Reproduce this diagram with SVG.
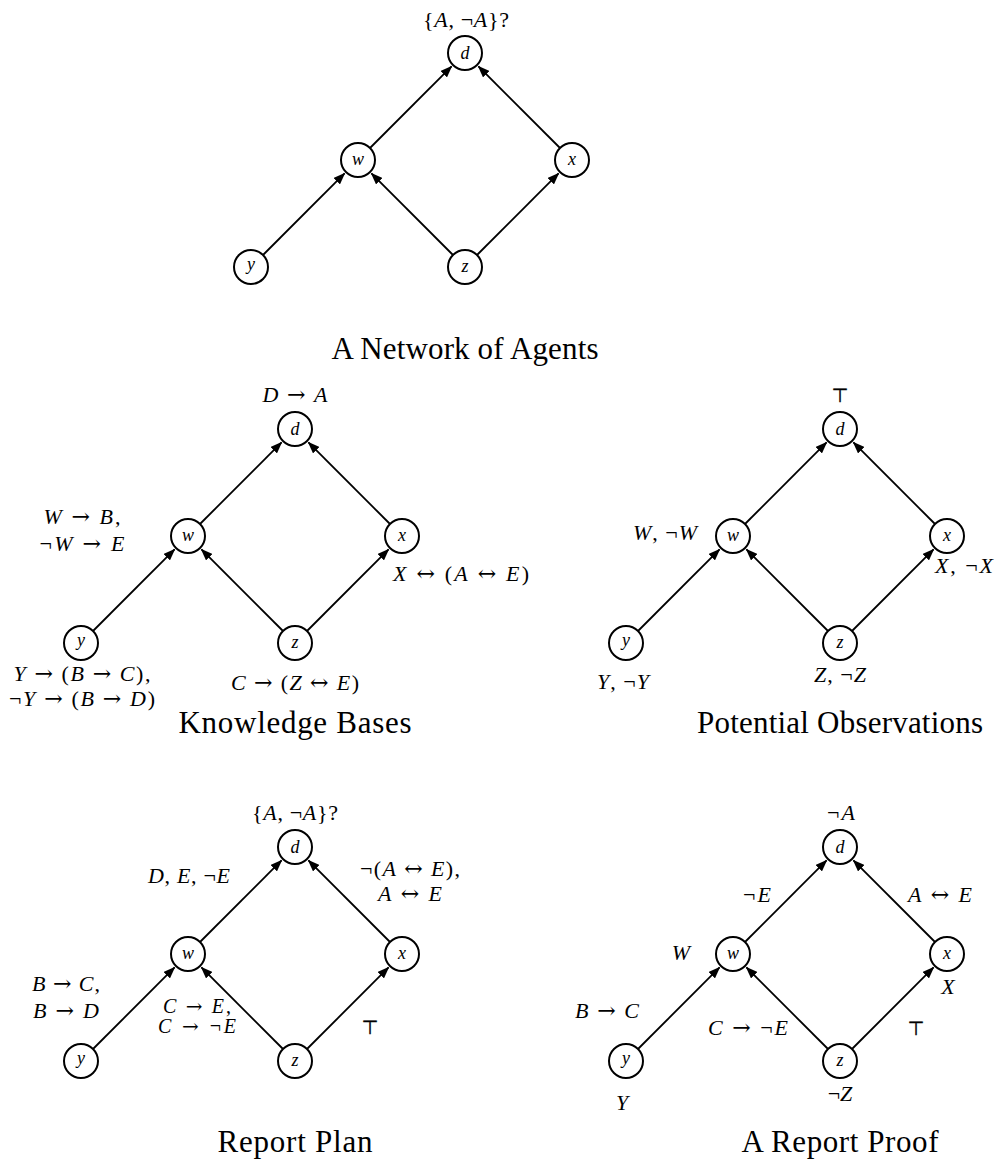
<svg xmlns="http://www.w3.org/2000/svg" width="997" height="1160" viewBox="0 0 997 1160">
<style>
.nd circle{fill:#fff;stroke:#000;stroke-width:2}
.nd text{font-family:"Liberation Serif","DejaVu Serif",serif;font-style:italic;font-size:18px;text-anchor:middle}
.lb{font-family:"Liberation Serif","DejaVu Serif",serif;font-size:22px;text-anchor:middle;fill:#000}
.sm{font-size:20px}
.i{font-style:italic}
.ar{font-family:"DejaVu Serif",serif}
.tp{font-family:"DejaVu Sans",sans-serif;font-size:19px;text-anchor:middle;fill:#000;stroke:#000;stroke-width:0.4}
.ttl{font-family:"Liberation Serif","DejaVu Serif",serif;font-size:31px;text-anchor:middle}
.edges line{stroke:#000;stroke-width:1.8}
</style>
<defs>
<marker id="ah" markerUnits="userSpaceOnUse" markerWidth="12" markerHeight="9" refX="11" refY="4.5" orient="auto" viewBox="0 0 12 9"><path d="M0,0 L12,4.5 L0,9 z" fill="#000"/></marker>
</defs>

<!-- Diagram 1: A Network of Agents -->
<g id="diagram1" transform="translate(465,53)">
<g id="d1-edges" class="edges" marker-end="url(#ah)">
<line x1="-202" y1="202" x2="-120.44" y2="120.44"/>
<line x1="-12" y1="202" x2="-93.56" y2="120.44"/>
<line x1="12" y1="202" x2="93.56" y2="120.44"/>
<line x1="-95" y1="95" x2="-13.44" y2="13.44"/>
<line x1="95" y1="95" x2="13.44" y2="13.44"/>
</g>
<g id="d1-d" class="nd"><circle cx="0" cy="0" r="17"/><text x="0" y="6">d</text></g>
<g id="d1-w" class="nd"><circle cx="-107" cy="107" r="17"/><text x="-107" y="112">w</text></g>
<g id="d1-x" class="nd"><circle cx="107" cy="107" r="17"/><text x="107" y="112">x</text></g>
<g id="d1-y" class="nd"><circle cx="-214" cy="214" r="17"/><text x="-214" y="217">y</text></g>
<g id="d1-z" class="nd"><circle cx="0" cy="214" r="17"/><text x="0" y="219">z</text></g>
<g id="d1-labels">
<text class="lb" x="1" y="-26" textLength="86">{<tspan class="i">A</tspan>, ¬<tspan class="i">A</tspan>}?</text>
<text class="ttl" x="0" y="306" textLength="267" lengthAdjust="spacing">A Network of Agents</text>
</g>
</g>

<!-- Diagram 2: Knowledge Bases -->
<g id="diagram2" transform="translate(295,429)">
<g id="d2-edges" class="edges" marker-end="url(#ah)">
<line x1="-202" y1="202" x2="-120.44" y2="120.44"/>
<line x1="-12" y1="202" x2="-93.56" y2="120.44"/>
<line x1="12" y1="202" x2="93.56" y2="120.44"/>
<line x1="-95" y1="95" x2="-13.44" y2="13.44"/>
<line x1="95" y1="95" x2="13.44" y2="13.44"/>
</g>
<g id="d2-d" class="nd"><circle cx="0" cy="0" r="17"/><text x="0" y="6">d</text></g>
<g id="d2-w" class="nd"><circle cx="-107" cy="107" r="17"/><text x="-107" y="112">w</text></g>
<g id="d2-x" class="nd"><circle cx="107" cy="107" r="17"/><text x="107" y="112">x</text></g>
<g id="d2-y" class="nd"><circle cx="-214" cy="214" r="17"/><text x="-214" y="217">y</text></g>
<g id="d2-z" class="nd"><circle cx="0" cy="214" r="17"/><text x="0" y="219">z</text></g>
<g id="d2-labels">
<text class="lb" x="0" y="-27" textLength="65"><tspan class="i">D</tspan> <tspan class="ar">→</tspan> <tspan class="i">A</tspan></text>
<text class="lb" x="-213" y="95" textLength="77"><tspan class="i">W</tspan> <tspan class="ar">→</tspan> <tspan class="i">B</tspan>,</text>
<text class="lb" x="-213" y="122" textLength="85">¬<tspan class="i">W</tspan> <tspan class="ar">→</tspan> <tspan class="i">E</tspan></text>
<text class="lb" x="98" y="152" style="text-anchor:start" textLength="136"><tspan class="i">X</tspan> <tspan class="ar">↔</tspan> (<tspan class="i">A</tspan> <tspan class="ar">↔</tspan> <tspan class="i">E</tspan>)</text>
<text class="lb" x="-213" y="252" textLength="137"><tspan class="i">Y</tspan> <tspan class="ar">→</tspan> (<tspan class="i">B</tspan> <tspan class="ar">→</tspan> <tspan class="i">C</tspan>),</text>
<text class="lb" x="-213" y="277" textLength="146">¬<tspan class="i">Y</tspan> <tspan class="ar">→</tspan> (<tspan class="i">B</tspan> <tspan class="ar">→</tspan> <tspan class="i">D</tspan>)</text>
<text class="lb" x="0" y="261" textLength="128"><tspan class="i">C</tspan> <tspan class="ar">→</tspan> (<tspan class="i">Z</tspan> <tspan class="ar">↔</tspan> <tspan class="i">E</tspan>)</text>
<text class="ttl" x="0" y="304" textLength="233" lengthAdjust="spacing">Knowledge Bases</text>
</g>
</g>

<!-- Diagram 3: Potential Observations -->
<g id="diagram3" transform="translate(840,429)">
<g id="d3-edges" class="edges" marker-end="url(#ah)">
<line x1="-202" y1="202" x2="-120.44" y2="120.44"/>
<line x1="-12" y1="202" x2="-93.56" y2="120.44"/>
<line x1="12" y1="202" x2="93.56" y2="120.44"/>
<line x1="-95" y1="95" x2="-13.44" y2="13.44"/>
<line x1="95" y1="95" x2="13.44" y2="13.44"/>
</g>
<g id="d3-d" class="nd"><circle cx="0" cy="0" r="17"/><text x="0" y="6">d</text></g>
<g id="d3-w" class="nd"><circle cx="-107" cy="107" r="17"/><text x="-107" y="112">w</text></g>
<g id="d3-x" class="nd"><circle cx="107" cy="107" r="17"/><text x="107" y="112">x</text></g>
<g id="d3-y" class="nd"><circle cx="-214" cy="214" r="17"/><text x="-214" y="217">y</text></g>
<g id="d3-z" class="nd"><circle cx="0" cy="214" r="17"/><text x="0" y="219">z</text></g>
<g id="d3-labels">
<text class="tp" x="0" y="-27">⊤</text>
<text class="lb" x="-175" y="111" textLength="64"><tspan class="i">W</tspan>, ¬<tspan class="i">W</tspan></text>
<text class="lb" x="124" y="144" textLength="58"><tspan class="i">X</tspan>, ¬<tspan class="i">X</tspan></text>
<text class="lb" x="-217" y="260" textLength="52"><tspan class="i">Y</tspan>, ¬<tspan class="i">Y</tspan></text>
<text class="lb" x="0" y="253" textLength="52"><tspan class="i">Z</tspan>, ¬<tspan class="i">Z</tspan></text>
<text class="ttl" x="0" y="304" textLength="286" lengthAdjust="spacing">Potential Observations</text>
</g>
</g>

<!-- Diagram 4: Report Plan -->
<g id="diagram4" transform="translate(295,847)">
<g id="d4-edges" class="edges" marker-end="url(#ah)">
<line x1="-202" y1="202" x2="-120.44" y2="120.44"/>
<line x1="-12" y1="202" x2="-93.56" y2="120.44"/>
<line x1="12" y1="202" x2="93.56" y2="120.44"/>
<line x1="-95" y1="95" x2="-13.44" y2="13.44"/>
<line x1="95" y1="95" x2="13.44" y2="13.44"/>
</g>
<g id="d4-d" class="nd"><circle cx="0" cy="0" r="17"/><text x="0" y="6">d</text></g>
<g id="d4-w" class="nd"><circle cx="-107" cy="107" r="17"/><text x="-107" y="112">w</text></g>
<g id="d4-x" class="nd"><circle cx="107" cy="107" r="17"/><text x="107" y="112">x</text></g>
<g id="d4-y" class="nd"><circle cx="-214" cy="214" r="17"/><text x="-214" y="217">y</text></g>
<g id="d4-z" class="nd"><circle cx="0" cy="214" r="17"/><text x="0" y="219">z</text></g>
<g id="d4-labels">
<text class="lb" x="0" y="-27" textLength="86">{<tspan class="i">A</tspan>, ¬<tspan class="i">A</tspan>}?</text>
<text class="lb" x="-106" y="36" textLength="82"><tspan class="i">D</tspan>, <tspan class="i">E</tspan>, ¬<tspan class="i">E</tspan></text>
<text class="lb" x="115" y="29" textLength="100">¬(<tspan class="i">A</tspan> <tspan class="ar">↔</tspan> <tspan class="i">E</tspan>),</text>
<text class="lb" x="115" y="54" textLength="64"><tspan class="i">A</tspan> <tspan class="ar">↔</tspan> <tspan class="i">E</tspan></text>
<text class="lb" x="-229" y="144" textLength="68"><tspan class="i">B</tspan> <tspan class="ar">→</tspan> <tspan class="i">C</tspan>,</text>
<text class="lb" x="-229" y="171" textLength="66"><tspan class="i">B</tspan> <tspan class="ar">→</tspan> <tspan class="i">D</tspan></text>
<text class="lb sm" x="-98" y="166" textLength="68"><tspan class="i">C</tspan> <tspan class="ar">→</tspan> <tspan class="i">E</tspan>,</text>
<text class="lb sm" x="-98" y="186" textLength="78"><tspan class="i">C</tspan> <tspan class="ar">→</tspan> ¬<tspan class="i">E</tspan></text>
<text class="tp" x="75" y="187">⊤</text>
<text class="ttl" x="0" y="305" textLength="155" lengthAdjust="spacing">Report Plan</text>
</g>
</g>

<!-- Diagram 5: A Report Proof -->
<g id="diagram5" transform="translate(840,847)">
<g id="d5-edges" class="edges" marker-end="url(#ah)">
<line x1="-202" y1="202" x2="-120.44" y2="120.44"/>
<line x1="-12" y1="202" x2="-93.56" y2="120.44"/>
<line x1="12" y1="202" x2="93.56" y2="120.44"/>
<line x1="-95" y1="95" x2="-13.44" y2="13.44"/>
<line x1="95" y1="95" x2="13.44" y2="13.44"/>
</g>
<g id="d5-d" class="nd"><circle cx="0" cy="0" r="17"/><text x="0" y="6">d</text></g>
<g id="d5-w" class="nd"><circle cx="-107" cy="107" r="17"/><text x="-107" y="112">w</text></g>
<g id="d5-x" class="nd"><circle cx="107" cy="107" r="17"/><text x="107" y="112">x</text></g>
<g id="d5-y" class="nd"><circle cx="-214" cy="214" r="17"/><text x="-214" y="217">y</text></g>
<g id="d5-z" class="nd"><circle cx="0" cy="214" r="17"/><text x="0" y="219">z</text></g>
<g id="d5-labels">
<text class="lb" x="1" y="-27" textLength="28">¬<tspan class="i">A</tspan></text>
<text class="lb" x="-83" y="55" textLength="28">¬<tspan class="i">E</tspan></text>
<text class="lb" x="100" y="55" textLength="64"><tspan class="i">A</tspan> <tspan class="ar">↔</tspan> <tspan class="i">E</tspan></text>
<text class="lb" x="-159" y="113"><tspan class="i">W</tspan></text>
<text class="lb" x="108" y="147"><tspan class="i">X</tspan></text>
<text class="lb" x="-233" y="171" textLength="64"><tspan class="i">B</tspan> <tspan class="ar">→</tspan> <tspan class="i">C</tspan></text>
<text class="lb" x="-92" y="188" textLength="80"><tspan class="i">C</tspan> <tspan class="ar">→</tspan> ¬<tspan class="i">E</tspan></text>
<text class="tp" x="76" y="188">⊤</text>
<text class="lb" x="-218" y="263"><tspan class="i">Y</tspan></text>
<text class="lb" x="0" y="254">¬<tspan class="i">Z</tspan></text>
<text class="ttl" x="0" y="305" textLength="197" lengthAdjust="spacing">A Report Proof</text>
</g>
</g>
</svg>
